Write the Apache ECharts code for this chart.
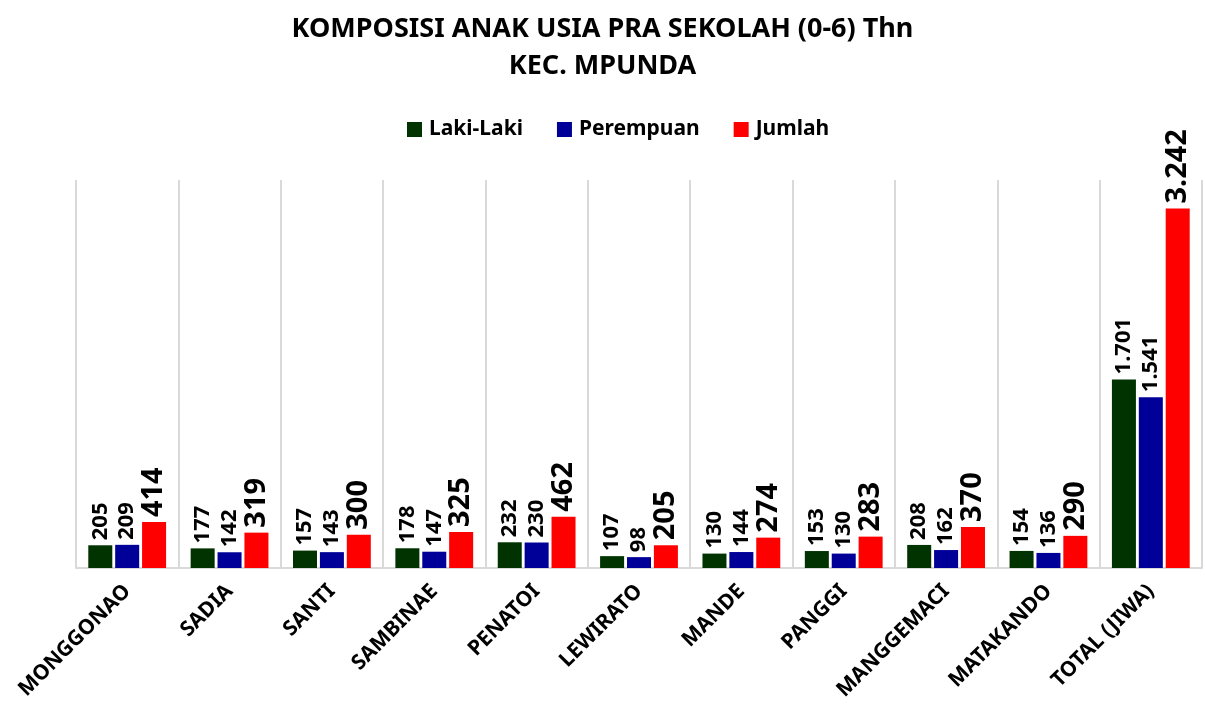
<!DOCTYPE html>
<html>
<head>
<meta charset="utf-8">
<script src="https://cdn.jsdelivr.net/npm/echarts@6/dist/echarts.min.js"></script>
<style>
  html, body { margin: 0; padding: 0; background: #fff; }
  #chart { width: 1205px; height: 720px; }
</style>
</head>
<body>
<div id="chart"></div>
<script>
// data desa / kelurahan
const categories = ['MONGGONAO', 'SADIA', 'SANTI', 'SAMBINAE', 'PENATOI', 'LEWIRATO', 'MANDE', 'PANGGI', 'MANGGEMACI', 'MATAKANDO', 'TOTAL (JIWA)']
const lakiLaki = [205, 177, 157, 178, 232, 107, 130, 153, 208, 154, 1701]
const perempuan = [209, 142, 143, 147, 230, 98, 144, 130, 162, 136, 1541]
const jumlah = [414, 319, 300, 325, 462, 205, 274, 283, 370, 290, 3242]

const FONT = '"Noto Sans", "Open Sans", sans-serif'

// format angka pakai titik ribuan (1.701)
const fmt = (p) => String(p.value).replace(/\B(?=(\d{3})+(?!\d))/g, '.')

const makeSeries = (name, data, color, fontSize) => ({
  name,
  type: 'bar',
  data,
  barGap: '12%',
  barCategoryGap: '24%',
  itemStyle: { color },
  label: {
    show: true,
    position: 'top',
    rotate: 90,
    align: 'left',
    verticalAlign: 'middle',
    distance: 5,
    color: '#000',
    fontWeight: 'bold',
    fontFamily: FONT,
    fontSize,
    formatter: fmt
  }
})

const chart = echarts.init(document.getElementById('chart'))

chart.setOption({
  animation: false,
  title: {
    text: 'KOMPOSISI ANAK USIA PRA SEKOLAH (0-6) Thn\nKEC. MPUNDA',
    left: 'center',
    top: 6,
    textStyle: {
      fontFamily: FONT,
      fontSize: 27,
      fontWeight: 'bold',
      color: '#000',
      lineHeight: 37
    }
  },
  legend: {
    top: 114,
    left: 402,
    itemWidth: 15,
    itemHeight: 15,
    itemGap: 34,
    icon: 'rect',
    textStyle: {
      fontFamily: FONT,
      fontSize: 21,
      fontWeight: 'bold',
      color: '#000',
      padding: [0, 0, 0, 2]
    }
  },
  grid: {
    left: 76,
    right: 3,
    top: 180,
    bottom: 152
  },
  xAxis: {
    type: 'category',
    data: categories,
    axisLine: { lineStyle: { color: '#d9d9d9', width: 2 } },
    axisTick: { show: false },
    splitLine: { show: true, interval: 0, lineStyle: { color: '#d9d9d9', width: 2 } },
    axisLabel: {
      interval: 0,
      rotate: 45,
      margin: 20,
      color: '#000',
      fontFamily: FONT,
      fontSize: 21,
      fontWeight: 'bold'
    }
  },
  yAxis: {
    type: 'value',
    min: 0,
    max: 3500,
    show: false,
    splitLine: { show: false }
  },
  series: [
    makeSeries('Laki-Laki', lakiLaki, '#003300', 22),
    makeSeries('Perempuan', perempuan, '#000099', 22),
    makeSeries('Jumlah', jumlah, '#ff0000', 29)
  ]
})
</script>
</body>
</html>
